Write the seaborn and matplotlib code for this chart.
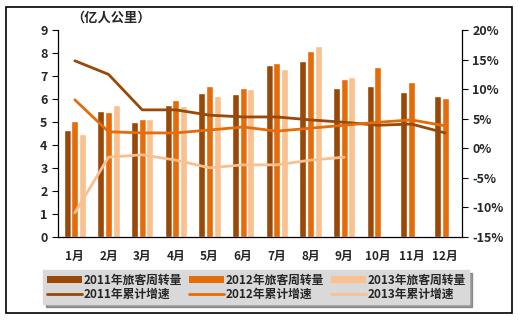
import numpy as np
import pandas as pd
import matplotlib
matplotlib.use("Agg")
import matplotlib.pyplot as plt
import seaborn as sns
from matplotlib.patches import Rectangle, Patch
from matplotlib.lines import Line2D

months = ["1月", "2月", "3月", "4月", "5月", "6月", "7月", "8月", "9月", "10月", "11月", "12月"]
vol_2011 = [4.65, 5.5, 5.0, 5.75, 6.25, 6.2, 7.48, 7.65, 6.5, 6.57, 6.3, 6.13]
vol_2012 = [5.05, 5.45, 5.15, 5.95, 6.55, 6.5, 7.58, 8.09, 6.87, 7.39, 6.74, 6.04]
vol_2013 = [4.5, 5.75, 5.15, 5.7, 6.15, 6.45, 7.3, 8.3, 6.94, None, None, None]
gr_2011 = [14.8, 12.5, 6.5, 6.5, 5.6, 5.3, 5.3, 4.8, 4.4, 3.9, 4.1, 2.6]
gr_2012 = [8.2, 2.8, 2.6, 2.6, 3.1, 3.6, 2.9, 3.4, 3.9, 4.4, 4.8, 3.8]
gr_2013 = [-10.9, -1.5, -1.1, -2.0, -3.3, -2.8, -2.8, -2.0, -1.5, None, None, None]

bar_labels = ["2011年旅客周转量", "2012年旅客周转量", "2013年旅客周转量"]
line_labels = ["2011年累计增速", "2012年累计增速", "2013年累计增速"]
colors = ["#984807", "#E46C0A", "#FAC090"]

sns.set_style("white")
plt.rcParams["font.family"] = ["Noto Sans CJK SC", "DejaVu Sans"]
plt.rcParams["font.weight"] = "bold"

bars = pd.DataFrame({
    "month": months * 3,
    "value": vol_2011 + vol_2012 + vol_2013,
    "series": [bar_labels[0]] * 12 + [bar_labels[1]] * 12 + [bar_labels[2]] * 12,
})
lines = pd.DataFrame({
    "month": months * 3,
    "value": gr_2011 + gr_2012 + gr_2013,
    "series": [line_labels[0]] * 12 + [line_labels[1]] * 12 + [line_labels[2]] * 12,
})

fig = plt.figure(figsize=(5.19, 3.27), dpi=100)
ax = fig.add_axes([0.1118, 0.2752, 0.7784, 0.6330])

sns.barplot(data=bars, x="month", y="value", hue="series", palette=colors,
            width=0.68, gap=0.06, ax=ax, legend=False, saturation=1)
ax.set_ylim(0, 9)
ax.set_yticks(range(0, 10))
ax.set_xlim(-0.5, 11.5)
ax.set_xlabel("")
ax.set_ylabel("")
ax.set_xticks(range(12))
ax.set_xticklabels(months, fontsize=8.5, fontweight="bold")
ax.set_xticks(np.arange(-0.5, 12, 1), minor=True)
ax.tick_params(axis="x", which="major", length=0, pad=9)
ax.tick_params(axis="x", which="minor", length=4, width=0.8, direction="out", color="black")
ax.tick_params(axis="y", length=4, width=0.8, direction="out", color="black", left=True, labelsize=9)
for lab in ax.get_yticklabels():
    lab.set_fontweight("bold")
for s in ["left", "bottom"]:
    ax.spines[s].set_color("black")
    ax.spines[s].set_linewidth(0.9)
ax.spines["top"].set_visible(False)
ax.spines["right"].set_visible(False)

ax2 = ax.twinx()
sns.lineplot(data=lines, x="month", y="value", hue="series", palette=colors,
             linewidth=2, ax=ax2, legend=False, sort=False)
ax2.set_ylim(-15, 20)
ax2.set_yticks(range(-15, 21, 5))
ax2.set_yticklabels([f"{v}%" for v in range(-15, 21, 5)], fontsize=9, fontweight="bold")
ax2.set_ylabel("")
ax2.set_xlim(-0.5, 11.5)
ax2.tick_params(axis="y", length=4, width=0.8, direction="out", color="black", right=True)
ax2.spines["right"].set_color("black")
ax2.spines["right"].set_linewidth(0.9)
for s in ["top", "left", "bottom"]:
    ax2.spines[s].set_visible(False)

fig.text(0.138, 0.945, "（亿人公里）", fontsize=9.5, fontweight="bold", ha="left", va="center")

handles = []
labels = []
for i in range(3):
    handles.append(Patch(facecolor=colors[i], edgecolor="none"))
    labels.append(bar_labels[i])
    handles.append(Line2D([0], [0], color=colors[i], lw=2))
    labels.append(line_labels[i])
leg = fig.legend(handles, labels, ncol=3, loc="center", bbox_to_anchor=(0.494, 0.122),
                 frameon=True, fancybox=False, shadow=True, fontsize=8.5,
                 handlelength=3.0, handleheight=0.6, columnspacing=0.6,
                 handletextpad=0.1, labelspacing=0.1, borderpad=0.3)
leg.get_frame().set_facecolor("#D9D9D9")
leg.get_frame().set_edgecolor("#D9D9D9")
for t in leg.get_texts():
    t.set_fontweight("bold")

fig.patches.append(Rectangle((6 / 519, 1 - 313 / 327), 506 / 519, 306 / 327,
                             transform=fig.transFigure, fill=False,
                             edgecolor="black", linewidth=1.2))

fig.savefig("out.png", dpi=100)
